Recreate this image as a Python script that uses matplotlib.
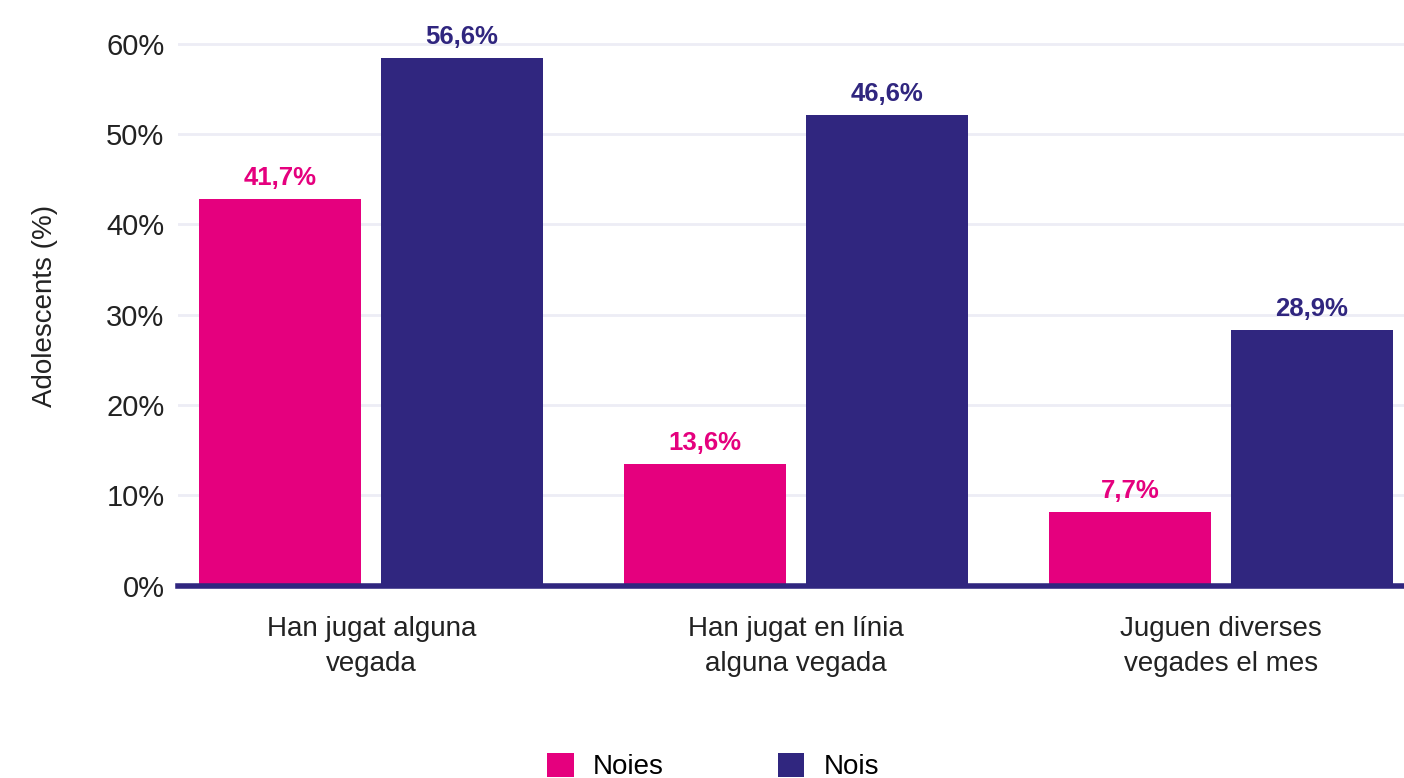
import matplotlib.pyplot as plt
import numpy as np

plt.rcParams['font.family'] = ['Liberation Sans Narrow', 'Liberation Sans', 'DejaVu Sans']

# data
categories = ['Han jugat alguna\nvegada', 'Han jugat en línia\nalguna vegada', 'Juguen diverses\nvegades el mes']
noies = [42.8, 13.5, 8.2]
nois = [58.4, 52.1, 28.3]
noies_labels = ['41,7%', '13,6%', '7,7%']
nois_labels = ['56,6%', '46,6%', '28,9%']
yticks = [0, 10, 20, 30, 40, 50, 60]

pink = '#E5007E'
navy = '#30267F'

fig = plt.figure(figsize=(14.04, 7.78), dpi=100)
ax = fig.add_axes([0.127, 0.247, 0.873, 0.720])

x = np.arange(len(categories))
w = 0.381
off = 0.214
b1 = ax.bar(x - off, noies, w, color=pink, label='Noies', zorder=3)
b2 = ax.bar(x + off, nois, w, color=navy, label='Nois', zorder=3)

for rect, txt in zip(b1, noies_labels):
    ax.text(rect.get_x() + rect.get_width() / 2, rect.get_height() + 1.0, txt,
            ha='center', va='bottom', color=pink, fontsize=18.5, fontweight='bold')
for rect, txt in zip(b2, nois_labels):
    ax.text(rect.get_x() + rect.get_width() / 2, rect.get_height() + 1.0, txt,
            ha='center', va='bottom', color=navy, fontsize=18.5, fontweight='bold')

ax.set_xlim(-0.454, 2.431)
ax.set_ylim(0, 62)
ax.set_yticks(yticks)
ax.set_yticklabels([f'{t}%' for t in yticks], fontsize=21, color='#222222')
ax.set_xticks(x)
ax.set_xticklabels(categories, fontsize=20, color='#222222', linespacing=1.45)
ax.tick_params(axis='y', length=0, pad=10)
ax.tick_params(axis='x', length=0, pad=22)

ax.grid(axis='y', color='#EDEDF5', linewidth=2, zorder=0)
for s in ['top', 'right', 'left']:
    ax.spines[s].set_visible(False)
ax.spines['bottom'].set_color(navy)
ax.spines['bottom'].set_linewidth(4)
ax.spines['bottom'].set_zorder(4)

ax.set_ylabel('Adolescents (%)', fontsize=20, color='#222222')
ax.yaxis.set_label_coords(-0.098, 0.5)

fig.legend(loc='center', bbox_to_anchor=(0.508, 0.015), ncol=2, frameon=False,
           fontsize=20, handlelength=0.95, handleheight=0.95, columnspacing=4.1,
           handletextpad=0.7)

fig.savefig('out.png', dpi=100)
